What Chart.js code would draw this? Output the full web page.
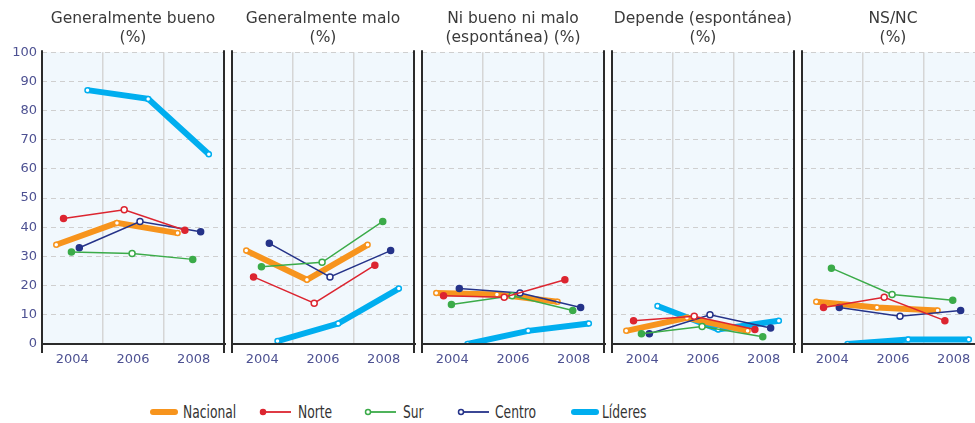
<!DOCTYPE html>
<html>
<head>
<meta charset="utf-8">
<script src="https://cdn.jsdelivr.net/npm/chart.js@4"></script>
<style>
  body { margin: 0; width: 975px; height: 423px; overflow: hidden; background: #fff; position: relative; }
  canvas { position: absolute; top: 0; }
  #legend { position: absolute; top: 401px; left: 0; width: 975px; height: 22px;
            font-family: 'Liberation Sans Narrow', 'DejaVu Sans Condensed', sans-serif; font-size: 18px; color: #333; }
  #legend svg, #legend span { position: absolute; top: 0; }
  #legend span { line-height: 22px; transform: scaleX(0.76); transform-origin: left center; white-space: nowrap; }
</style>
</head>
<body>
<div id="legend"></div>
<script>
// datos (%), cada serie: [panel][2004, 2006, 2008]
const years = [2004, 2006, 2008];
const panelTitles = [
    ['Generalmente bueno', '(%)'],
    ['Generalmente malo', '(%)'],
    ['Ni bueno ni malo', '(espontánea) (%)'],
    ['Depende (espontánea)', '(%)'],
    ['NS/NC', '(%)']
];
const seriesNames = ['Nacional', 'Norte', 'Sur', 'Centro', 'Líderes'];

const nacional = [[34, 41.5, 38], [32, 22, 34], [17.5, 17, 14.5], [4.5, 9, 4.5], [14.5, 12.5, 11.5]];
const norte    = [[43, 46, 39], [23, 14, 27], [16.5, 16, 22], [8, 9.5, 5], [12.5, 16, 8]];
const sur      = [[31.5, 31, 29], [26.5, 28, 42], [13.5, 16.5, 11.5], [3.5, 6, 2.5], [26, 17, 15]];
const centro   = [[33, 42, 38.5], [34.5, 23, 32], [19, 17.5, 12.5], [3.5, 10, 5.5], [12.5, 9.5, 11.5]];
const lideres  = [[87, 84, 65], [1, 7, 19], [0, 4.5, 7], [13, 5, 8], [0, 1.5, 1.5]];

const yMin = 0, yMax = 100, yStep = 10;

// estilos
const allSeries = [nacional, norte, sur, centro, lideres];
const colors = ['#f7941d', '#dc2530', '#3bab49', '#253389', '#00aeef'];
const widths = [6, 1.5, 1.5, 1.5, 6];
const dodge = [-0.53, -0.29, -0.03, 0.23, 0.5];   // desplazamiento dentro de cada año
const drawOrder = [4, 0, 1, 2, 5];
const tickColor = '#4d5192';

const panelFrame = {
    id: 'panelFrame',
    beforeDraw(chart) {
        const { ctx, chartArea: a } = chart;
        ctx.save();
        ctx.fillStyle = '#f1f8fd';
        ctx.fillRect(a.left, a.top, a.right - a.left, a.bottom - a.top);
        ctx.restore();
    },
    afterDraw(chart) {
        const { ctx, chartArea: a } = chart;
        ctx.save();
        ctx.strokeStyle = '#2b2b2b';
        ctx.lineWidth = 2;
        ctx.beginPath();
        ctx.moveTo(a.left, a.top - 2); ctx.lineTo(a.left, a.bottom + 9);
        ctx.moveTo(a.right, a.top - 2); ctx.lineTo(a.right, a.bottom + 9);
        ctx.moveTo(a.left, a.bottom); ctx.lineTo(a.right + 2, a.bottom);
        ctx.stroke();
        ctx.restore();
    }
};

function makePanel(p) {
    const canvas = document.createElement('canvas');
    canvas.width = 232;
    canvas.height = 380;
    canvas.style.left = (190 * p) + 'px';
    document.body.appendChild(canvas);

    const datasets = allSeries.map((serie, s) => ({
        label: seriesNames[s],
        data: years.map((y, i) => ({ x: y + dodge[s], y: serie[p][i] })),
        borderColor: colors[s],
        borderWidth: widths[s],
        pointRadius: widths[s] > 3 ? 2.5 : 3,
        pointBorderWidth: 1.5,
        pointBorderColor: colors[s],
        pointBackgroundColor: widths[s] > 3 ? '#ffffff' : years.map((y, i) => i === 1 ? '#ffffff' : colors[s]),
        order: drawOrder[s],
        tension: 0
    }));

    return new Chart(canvas, {
        type: 'line',
        data: { datasets },
        options: {
            responsive: false,
            animation: false,
            layout: { padding: { top: 0, right: 8, bottom: 0, left: 0 } },
            plugins: {
                legend: { display: false },
                tooltip: { enabled: false },
                title: {
                    display: true,
                    fullSize: false,
                    text: panelTitles[p],
                    color: '#3a3a3a',
                    font: { family: 'DejaVu Sans', size: 15.5, weight: 'normal', lineHeight: 1.2 },
                    padding: { top: 10, bottom: 5 }
                }
            },
            scales: {
                x: {
                    type: 'linear',
                    min: 2003,
                    max: 2009,
                    afterFit: s => { s.height = 36; },
                    afterBuildTicks: s => { s.ticks = [2003, 2004, 2005, 2006, 2007, 2008, 2009].map(v => ({ value: v })); },
                    ticks: {
                        autoSkip: false,
                        maxRotation: 0,
                        padding: 8,
                        color: tickColor,
                        font: { family: 'DejaVu Sans', size: 13 },
                        callback: v => years.includes(v) ? String(v) : ''
                    },
                    grid: {
                        drawTicks: false,
                        lineWidth: 1.5,
                        color: c => (c.tick && (c.tick.value === 2005 || c.tick.value === 2007)) ? '#d6d6d6' : 'rgba(0,0,0,0)'
                    },
                    border: { display: false }
                },
                y: {
                    min: yMin,
                    max: yMax,
                    afterFit: s => { s.width = 42; },
                    ticks: {
                        display: p === 0,
                        stepSize: yStep,
                        padding: 5,
                        color: tickColor,
                        font: { family: 'DejaVu Sans', size: 13 }
                    },
                    grid: { drawTicks: false, color: '#cfcfcf', lineWidth: 1, borderDash: [5, 4] },
                    border: { display: false, dash: [5, 4] }
                }
            }
        },
        plugins: [panelFrame]
    });
}

panelTitles.forEach((t, p) => makePanel(p));

// leyenda
const legendLine = [150, 259, 364, 457, 571];
const legendText = [183, 298, 403, 495, 602];
const legend = document.getElementById('legend');
seriesNames.forEach((name, s) => {
    const thick = widths[s] > 3;
    const len = thick ? 27 : 32;
    const marker = thick ? '' :
        `<circle cx="4" cy="11" r="2.5" fill="${s === 1 ? colors[s] : '#fff'}" stroke="${colors[s]}" stroke-width="1.5"/>`;
    const svg = document.createElementNS('http://www.w3.org/2000/svg', 'svg');
    svg.setAttribute('width', len + 2);
    svg.setAttribute('height', 22);
    svg.style.left = legendLine[s] + 'px';
    svg.innerHTML = `<line x1="${thick ? 3 : 1}" y1="11" x2="${thick ? len - 2 : len}" y2="11" stroke="${colors[s]}" stroke-width="${thick ? 6 : 1.8}" stroke-linecap="${thick ? 'round' : 'butt'}"/>${marker}`;
    legend.appendChild(svg);
    const span = document.createElement('span');
    span.style.left = legendText[s] + 'px';
    span.textContent = name;
    legend.appendChild(span);
});
</script>
</body>
</html>
